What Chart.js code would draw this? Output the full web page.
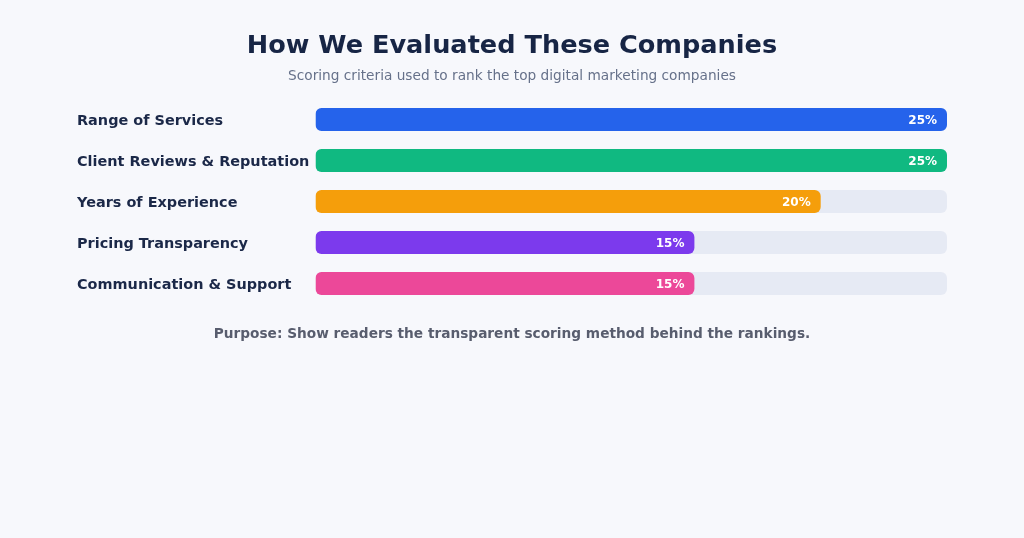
<!DOCTYPE html>
<html>
<head>
<meta charset="utf-8">
<script src="https://cdn.jsdelivr.net/npm/chart.js@4.4.1/dist/chart.umd.min.js"></script>
<style>
  html, body { margin: 0; padding: 0; background: #f7f8fc; }
  #wrap { position: relative; width: 1024px; height: 538px; overflow: hidden; font-family: "DejaVu Sans", sans-serif; }
  #c { position: absolute; left: 0; top: 0; }
  .t { position: absolute; left: 0; width: 1024px; text-align: center; white-space: nowrap; }
  #title { top: 27px; font-size: 25.6px; font-weight: bold; color: #172545; line-height: 34px; }
  #sub { top: 66px; font-size: 13.7px; color: #66718a; line-height: 18px; }
  #foot { top: 324px; font-size: 13.7px; font-weight: bold; color: #585d6e; line-height: 18px; }
</style>
</head>
<body>
<div id="wrap">
  <canvas id="c" width="1024" height="538"></canvas>
  <div class="t" id="title">How We Evaluated These Companies</div>
  <div class="t" id="sub">Scoring criteria used to rank the top digital marketing companies</div>
  <div class="t" id="foot">Purpose: Show readers the transparent scoring method behind the rankings.</div>
</div>
<script>
const categories = ["Range of Services", "Client Reviews & Reputation", "Years of Experience", "Pricing Transparency", "Communication & Support"];
const weights = [25, 25, 20, 15, 15];
const maxWeight = 25;
const trackValues = [25, 25, 25, 25, 25];
const barColors = ["#2563eb", "#10b981", "#f59e0b", "#7c3aed", "#ec4899"];

const valueLabels = {
  id: 'valueLabels',
  afterDatasetsDraw(chart) {
    const ctx = chart.ctx;
    const meta = chart.getDatasetMeta(0);
    ctx.save();
    ctx.font = 'bold 12px "DejaVu Sans"';
    ctx.fillStyle = '#ffffff';
    ctx.textAlign = 'right';
    ctx.textBaseline = 'middle';
    meta.data.forEach((bar, i) => {
      ctx.fillText(weights[i] + '%', bar.x - 10, bar.y + 1.5);
    });
    ctx.restore();
  }
};

new Chart(document.getElementById('c'), {
  type: 'bar',
  data: {
    labels: categories,
    datasets: [
      {
        data: weights,
        backgroundColor: barColors,
        borderRadius: 6,
        borderSkipped: false,
        grouped: false,
        categoryPercentage: 1,
        barPercentage: 0.56
      },
      {
        data: trackValues,
        backgroundColor: '#e6eaf4',
        borderRadius: 6,
        borderSkipped: false,
        grouped: false,
        categoryPercentage: 1,
        barPercentage: 0.56
      }
    ]
  },
  options: {
    indexAxis: 'y',
    responsive: false,
    animation: false,
    layout: { padding: { left: 77, right: 77, top: 99, bottom: 234 } },
    plugins: { legend: { display: false }, tooltip: { enabled: false }, title: { display: false } },
    scales: {
      x: { display: false, min: 0, max: maxWeight },
      y: {
        grid: { display: false },
        border: { display: false },
        ticks: {
          crossAlign: 'far',
          padding: 0,
          labelOffset: 1.5,
          color: '#1b2848',
          font: { family: '"DejaVu Sans"', size: 14.45, weight: 'bold' }
        },
        afterFit(scale) { scale.width = 238.5; }
      }
    }
  },
  plugins: [valueLabels]
});
</script>
</body>
</html>
